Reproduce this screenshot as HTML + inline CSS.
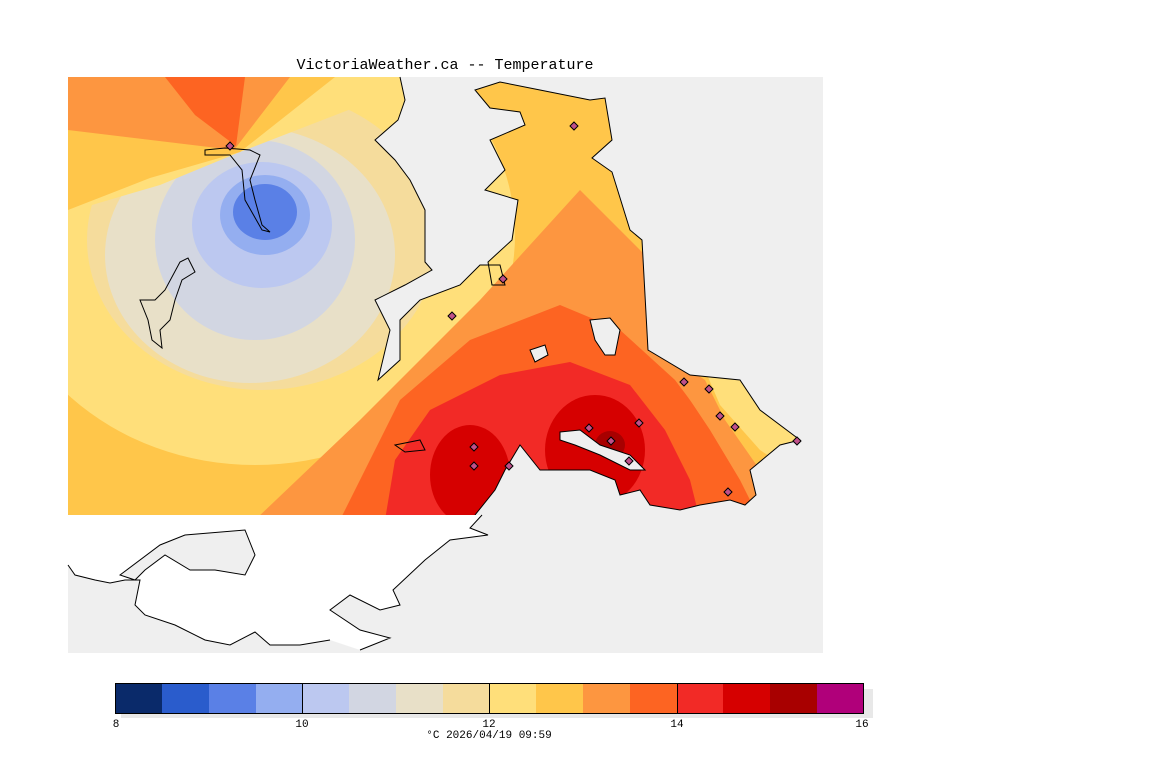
<!DOCTYPE html>
<html><head><meta charset="utf-8"><style>
body{margin:0;background:#fff;width:1152px;height:768px;overflow:hidden;font-family:"Liberation Sans",sans-serif}
</style></head><body>
<svg width="1152" height="768" viewBox="0 0 1152 768" xmlns="http://www.w3.org/2000/svg">
<defs>
<clipPath id="land"><path d="M68,77 L400,77 L405,100 L398,120 L375,140 L395,160 L410,180 L425,210 L425,262 L432,270 L405,285 L375,300 L390,330 L378,380 L400,360 L400,320 L420,300 L460,285 L480,265 L500,265 L505,285 L492,285 L488,262 L512,240 L518,200 L485,190 L505,170 L490,140 L525,125 L520,112 L490,108 L475,90 L500,82 L540,90 L590,100 L605,98 L612,140 L592,158 L612,172 L630,230 L642,240 L648,350 L690,375 L740,380 L760,410 L800,440 L780,445 L750,470 L756,495 L745,505 L730,500 L700,505 L680,510 L650,505 L640,490 L620,495 L615,480 L590,470 L560,470 L540,470 L520,445 L505,470 L495,490 L475,515 L68,515 Z"/></clipPath>
</defs>
<rect x="68" y="77" width="755" height="576" fill="#efefef"/>
<g clip-path="url(#land)">
<rect x="68" y="77" width="755" height="440" fill="#ffc64a"/>
<ellipse cx="255" cy="235" rx="260" ry="230" fill="#ffdf7a"/>
<ellipse cx="262" cy="240" rx="175" ry="150" fill="#f5dc9c"/>
<ellipse cx="250" cy="255" rx="145" ry="128" fill="#e8e0c8"/>
<ellipse cx="255" cy="240" rx="100" ry="100" fill="#d2d6e2"/>
<ellipse cx="262" cy="225" rx="70" ry="63" fill="#bcc8f0"/>
<ellipse cx="265" cy="215" rx="45" ry="40" fill="#94aef0"/>
<ellipse cx="265" cy="212" rx="32" ry="28" fill="#5a80e6"/>
<path d="M68,77 L400,77 L400,90 L240,152 L160,185 L68,212 Z" fill="#ffdf7a"/>
<path d="M68,77 L335,77 L240,152 L150,178 L68,210 Z" fill="#ffc64a"/>
<path d="M68,77 L290,77 L234,150 L68,130 Z" fill="#fd9640"/>
<path d="M165,77 L245,77 L236,146 L195,115 Z" fill="#fd6422"/>
<path d="M255,520 L360,420 L480,300 L580,190 L650,260 L690,370 L810,440 L810,520 Z" fill="#fd9640"/>
<path d="M340,520 L400,400 L470,340 L560,305 L620,330 L675,380 L720,440 L760,500 L760,520 Z" fill="#fd6422"/>
<path d="M385,520 L395,460 L430,410 L500,375 L570,362 L630,385 L665,430 L690,480 L700,520 Z" fill="#f22a26"/>
<ellipse cx="470" cy="475" rx="40" ry="50" fill="#d60000"/>
<ellipse cx="595" cy="450" rx="50" ry="55" fill="#d60000"/>
<ellipse cx="610" cy="445" rx="15" ry="14" fill="#a80000"/>
<path d="M690,370 L730,370 L810,430 L790,490 L760,500 L735,460 L700,410 Z" fill="#ffc64a"/>
<path d="M705,370 L740,370 L810,430 L790,470 L760,450 L720,405 Z" fill="#ffdf7a"/>
<path d="M690,370 L705,380 L725,420 L760,470 L770,520 L760,520 L740,480 L710,430 L680,385 Z" fill="#fd9640"/>
</g>
<path d="M400,77 L405,100 L398,120 L375,140 L395,160 L410,180 L425,210 L425,262 L432,270 L405,285 L375,300 L390,330 L378,380 L400,360 L400,320 L420,300 L460,285 L480,265 L500,265 L505,285 L492,285 L488,262 L512,240 L518,200 L485,190 L505,170 L490,140 L525,125 L520,112 L490,108 L475,90 L500,82 L540,90 L590,100 L605,98 L612,140 L592,158 L612,172 L630,230 L642,240 L648,350 L690,375 L740,380 L760,410 L800,440 L780,445 L750,470 L756,495 L745,505 L730,500 L700,505 L680,510 L650,505 L640,490 L620,495 L615,480 L590,470 L560,470 L540,470 L520,445 L505,470 L495,490 L475,515" fill="none" stroke="#000" stroke-width="1"/>
<path d="M560,432 L580,430 L600,445 L630,455 L645,470 L630,470 L600,455 L575,445 L560,440 Z" fill="#efefef" stroke="#000"/>
<path d="M205,150 L225,148 L250,150 L260,155 L250,180 L255,200 L262,225 L270,232 L262,230 L245,200 L242,170 L230,155 L205,155 Z" fill="none" stroke="#000"/>
<path d="M155,300 L165,290 L180,262 L188,258 L195,272 L182,280 L175,300 L170,320 L160,330 L162,348 L152,340 L148,320 L140,300 Z" fill="none" stroke="#000"/>
<path d="M590,320 L610,318 L620,330 L615,355 L605,355 L595,340 Z" fill="#efefef" stroke="#000"/>
<path d="M530,350 L545,345 L548,355 L535,362 Z" fill="#efefef" stroke="#000"/>
<path d="M395,445 L420,440 L425,450 L405,452 Z" fill="none" stroke="#000"/>
<path d="M68,515 L482,515 L470,528 L488,535 L450,540 L425,560 L393,590 L400,605 L380,610 L350,595 L330,610 L360,630 L390,638 L360,650 L330,640 L300,645 L270,645 L255,632 L230,645 L205,640 L175,625 L145,615 L135,605 L140,580 L125,580 L110,583 L95,580 L75,575 L68,565 Z" fill="#fff"/>
<path d="M482,515 L470,528 L488,535 L450,540 L425,560 L393,590 L400,605 L380,610 L350,595 L330,610 L360,630 L390,638 L360,650 M330,640 L300,645 L270,645 L255,632 L230,645 L205,640 L175,625 L145,615 L135,605 L140,580 L125,580 L110,583 L95,580 L75,575 L68,565" fill="none" stroke="#000"/>
<path d="M120,575 L160,545 L185,535 L245,530 L255,555 L245,575 L215,570 L190,570 L165,555 L145,570 L135,580 Z" fill="#efefef" stroke="#000"/>
<g fill="#c0508a" stroke="#000" stroke-width="1">
<path d="M230,142 l4,4 l-4,4 l-4,-4 Z"/><path d="M574,122 l4,4 l-4,4 l-4,-4 Z"/><path d="M503,275 l4,4 l-4,4 l-4,-4 Z"/><path d="M452,312 l4,4 l-4,4 l-4,-4 Z"/><path d="M684,378 l4,4 l-4,4 l-4,-4 Z"/><path d="M709,385 l4,4 l-4,4 l-4,-4 Z"/><path d="M720,412 l4,4 l-4,4 l-4,-4 Z"/><path d="M735,423 l4,4 l-4,4 l-4,-4 Z"/><path d="M639,419 l4,4 l-4,4 l-4,-4 Z"/><path d="M474,443 l4,4 l-4,4 l-4,-4 Z"/><path d="M474,462 l4,4 l-4,4 l-4,-4 Z"/><path d="M509,462 l4,4 l-4,4 l-4,-4 Z"/><path d="M589,424 l4,4 l-4,4 l-4,-4 Z"/><path d="M611,437 l4,4 l-4,4 l-4,-4 Z"/><path d="M728,488 l4,4 l-4,4 l-4,-4 Z"/><path d="M797,437 l4,4 l-4,4 l-4,-4 Z"/><path d="M629,457 l4,4 l-4,4 l-4,-4 Z"/>
</g>
<text x="445" y="69" text-anchor="middle" font-size="15" font-family="Liberation Mono, monospace" fill="#000">VictoriaWeather.ca -- Temperature</text>
<rect x="864" y="689" width="9" height="29" fill="#e8e8e8"/>
<rect x="121" y="713" width="752" height="5" fill="#e8e8e8"/>
<g stroke="none">
<rect x="115" y="683" width="47" height="30" fill="#0a2a6a"/>
<rect x="162" y="683" width="47" height="30" fill="#2a5ccc"/>
<rect x="209" y="683" width="47" height="30" fill="#5a80e6"/>
<rect x="256" y="683" width="47" height="30" fill="#94aef0"/>
<rect x="302" y="683" width="47" height="30" fill="#bcc8f0"/>
<rect x="349" y="683" width="47" height="30" fill="#d2d6e2"/>
<rect x="396" y="683" width="47" height="30" fill="#e8e0c8"/>
<rect x="443" y="683" width="47" height="30" fill="#f5dc9c"/>
<rect x="489" y="683" width="47" height="30" fill="#ffdf7a"/>
<rect x="536" y="683" width="47" height="30" fill="#ffc64a"/>
<rect x="583" y="683" width="47" height="30" fill="#fd9640"/>
<rect x="630" y="683" width="47" height="30" fill="#fd6422"/>
<rect x="677" y="683" width="47" height="30" fill="#f22a26"/>
<rect x="723" y="683" width="47" height="30" fill="#d60000"/>
<rect x="770" y="683" width="47" height="30" fill="#a80000"/>
<rect x="817" y="683" width="47" height="30" fill="#b0007a"/>
</g>
<rect x="115.5" y="683.5" width="748" height="30" fill="none" stroke="#000"/>
<path d="M302.5,683 V713 M489.5,683 V713 M677.5,683 V713" stroke="#000"/>
<g font-size="11" text-anchor="middle" fill="#000" font-family="Liberation Mono, monospace">
<text x="116" y="727">8</text><text x="302" y="727">10</text><text x="489" y="727">12</text><text x="677" y="727">14</text><text x="862" y="727">16</text>
<text x="489" y="738">°C  2026/04/19 09:59</text>
</g>
</svg>
</body></html>
